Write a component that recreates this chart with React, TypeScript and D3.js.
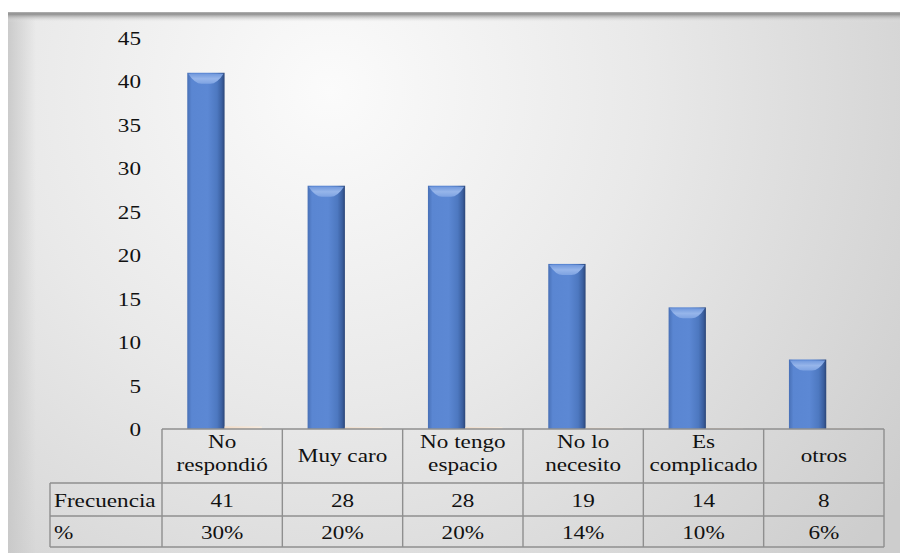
import React from "react";
import * as d3 from "d3";

const categories = [
  ["No", "respondió"],
  ["Muy caro"],
  ["No tengo", "espacio"],
  ["No lo", "necesito"],
  ["Es", "complicado"],
  ["otros"],
];
const frecuencia = [41, 28, 28, 19, 14, 8];
const porcentaje = [0.3, 0.2, 0.2, 0.14, 0.1, 0.06];
const porcentajeLabels = ["30%", "20%", "20%", "14%", "10%", "6%"];
const yTicks = [0, 5, 10, 15, 20, 25, 30, 35, 40, 45];
const rowLabels = ["Frecuencia", "%"];

const W = 900;
const H = 553;
const FONT = "Liberation Serif";
const FS = 19;
const SX = 1.22;

export default function App() {
  const keys = categories.map((c) => c.join(" "));
  const x = d3.scaleBand<string>().domain(keys).range([162, 884]).paddingInner(0).paddingOuter(0);
  const bw = x.bandwidth();
  const x1 = d3.scaleBand<string>().domain(["f", "p"]).range([bw * 0.21, bw * 0.83]).padding(0);
  const y = d3.scaleLinear().domain([0, 45]).range([429, 38]);

  const tableLeft = 50;
  const rowY = [429, 483, 516, 547];

  const txt = (s: string, tx: number, ty: number, anchor: "start" | "middle" | "end", key?: string) => (
    <text
      key={key}
      transform={`translate(${tx},${ty}) scale(${SX},1)`}
      textAnchor={anchor}
      style={{ fontFamily: FONT, fontSize: FS }}
      fill="#111"
    >
      {s}
    </text>
  );

  return (
    <svg width={W} height={H} style={{ position: "absolute", left: 0, top: 0 }}>
      <defs>
        <radialGradient id="bg" cx="330" cy="90" r="700" gradientUnits="userSpaceOnUse">
          <stop offset="0" stopColor="#fbfbfb" />
          <stop offset="0.45" stopColor="#e9e9e9" />
          <stop offset="1" stopColor="#cdcdcd" />
        </radialGradient>
        <linearGradient id="leftShade" x1="0" x2="1" y1="0" y2="0">
          <stop offset="0" stopColor="#c8c8c8" stopOpacity="0.9" />
          <stop offset="1" stopColor="#c8c8c8" stopOpacity="0" />
        </linearGradient>
        <linearGradient id="topBand" x1="0" x2="0" y1="0" y2="1">
          <stop offset="0" stopColor="#b4b4b4" />
          <stop offset="0.2" stopColor="#8e8e8e" />
          <stop offset="1" stopColor="#e8e8e8" stopOpacity="0" />
        </linearGradient>
        <linearGradient id="barBody" x1="0" x2="1" y1="0" y2="0">
          <stop offset="0" stopColor="#4870b6" />
          <stop offset="0.12" stopColor="#5a86d2" />
          <stop offset="0.55" stopColor="#5c88d4" />
          <stop offset="0.8" stopColor="#4d78c0" />
          <stop offset="0.93" stopColor="#3a5e9e" />
          <stop offset="1" stopColor="#2b4577" />
        </linearGradient>
        <linearGradient id="barTop" x1="0" x2="0" y1="0" y2="1">
          <stop offset="0" stopColor="#7299dd" />
          <stop offset="0.5" stopColor="#96b5ea" />
          <stop offset="1" stopColor="#7ea3e2" />
        </linearGradient>
        <linearGradient id="pctBody" x1="0" x2="1" y1="0" y2="0">
          <stop offset="0" stopColor="#f3dcc6" />
          <stop offset="1" stopColor="#f8ece0" />
        </linearGradient>
      </defs>

      {/* panel background */}
      <rect x={8} y={12} width={892} height={541} fill="url(#bg)" />
      <rect x={8} y={12} width={28} height={541} fill="url(#leftShade)" />
      <rect x={8} y={12} width={892} height={10} fill="url(#topBand)" />

      {/* y-axis labels */}
      {yTicks.map((t) => txt(String(t), 141, y(t) + 7, "end", "t" + t))}

      {/* frequency bars with bevelled top */}
      {frecuencia.map((v, i) => {
        const bx = (x(keys[i]) as number) + (x1("f") as number);
        const w = x1.bandwidth();
        const top = y(v);
        const h = y(0) - top;
        const bev = Math.min(11, h / 2);
        return (
          <g key={"f" + i}>
            <rect x={bx} y={top} width={w} height={h} fill="url(#barBody)" />
            <path
              d={`M${bx + 1},${top + 1} L${bx + w - 1},${top + 1} Q${bx + w * 0.8},${top + bev} ${bx + w * 0.62},${top + bev} L${bx + w * 0.38},${top + bev} Q${bx + w * 0.2},${top + bev} ${bx + 1},${top + 1} Z`}
              fill="url(#barTop)"
            />
          </g>
        );
      })}

      {/* percentage series bars (share of total) */}
      {porcentaje.map((v, i) => {
        const bx = (x(keys[i]) as number) + (x1("p") as number);
        const w = x1.bandwidth();
        const top = y(v);
        return <rect key={"p" + i} x={bx} y={top} width={w} height={y(0) - top} fill="url(#pctBody)" />;
      })}

      {/* data table grid */}
      <g stroke="#8f8f8f" strokeWidth={1.4} fill="none">
        <line x1={162} x2={884} y1={rowY[0]} y2={rowY[0]} />
        {rowY.slice(1).map((ry) => (
          <line key={"h" + ry} x1={tableLeft} x2={884} y1={ry} y2={ry} />
        ))}
        <line x1={tableLeft} x2={tableLeft} y1={rowY[1]} y2={rowY[3]} />
        {keys.map((k) => (
          <line key={"v" + k} x1={x(k) as number} x2={x(k) as number} y1={rowY[0]} y2={rowY[3]} />
        ))}
        <line x1={884} x2={884} y1={rowY[0]} y2={rowY[3]} />
      </g>

      {/* category labels */}
      {categories.map((lines, i) => {
        const cx = (x(keys[i]) as number) + bw / 2;
        if (lines.length === 1) return txt(lines[0], cx, 462, "middle", "c" + i);
        return (
          <g key={"c" + i}>
            {txt(lines[0], cx, 448, "middle")}
            {txt(lines[1], cx, 471, "middle")}
          </g>
        );
      })}

      {/* row headers */}
      {txt(rowLabels[0], 54, 507, "start", "r0")}
      {txt(rowLabels[1], 54, 539, "start", "r1")}

      {/* table values */}
      {frecuencia.map((v, i) => txt(String(v), (x(keys[i]) as number) + bw / 2, 507, "middle", "fv" + i))}
      {porcentajeLabels.map((s, i) => txt(s, (x(keys[i]) as number) + bw / 2, 539, "middle", "pv" + i))}
    </svg>
  );
}
